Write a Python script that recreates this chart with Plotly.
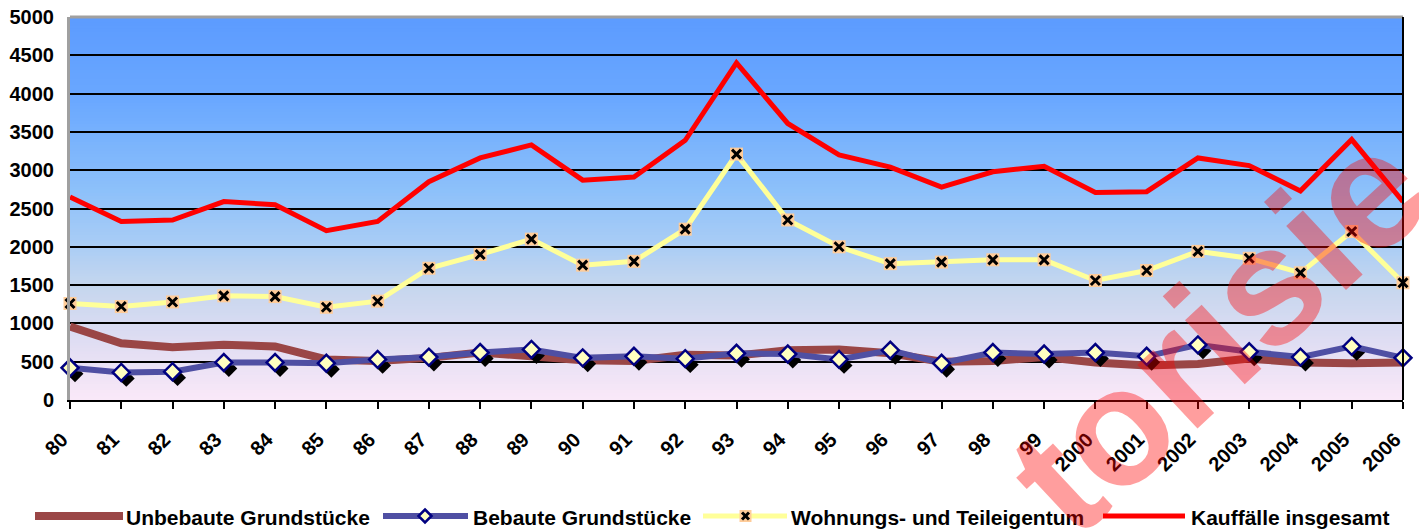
import plotly.graph_objects as go

# ---------------- data ----------------
years = ["80", "81", "82", "83", "84", "85", "86", "87", "88", "89", "90", "91", "92", "93",
         "94", "95", "96", "97", "98", "99", "2000", "2001", "2002", "2003", "2004", "2005", "2006"]

unbebaute = [960, 740, 690, 720, 700, 530, 510, 550, 620, 560, 520, 510, 590, 580,
             650, 660, 610, 500, 510, 560, 490, 450, 470, 540, 490, 480, 490]
bebaute = [420, 360, 370, 490, 490, 480, 530, 560, 620, 660, 550, 570, 540, 610,
           600, 530, 650, 480, 620, 600, 620, 570, 720, 630, 560, 700, 550]
wohnungs = [1260, 1220, 1280, 1360, 1350, 1210, 1290, 1720, 1900, 2100, 1760, 1810, 2230, 3210,
            2350, 2000, 1780, 1800, 1830, 1830, 1560, 1690, 1940, 1850, 1660, 2200, 1530]
kauffaelle = [2650, 2330, 2350, 2590, 2550, 2210, 2330, 2850, 3160, 3330, 2870, 2910, 3390, 4400,
              3610, 3200, 3040, 2780, 2980, 3050, 2710, 2720, 3160, 3060, 2730, 3400, 2590]

y_ticks = [0, 500, 1000, 1500, 2000, 2500, 3000, 3500, 4000, 4500, 5000]
series_names = ["Unbebaute Grundstücke", "Bebaute Grundstücke",
                "Wohnungs- und Teileigentum", "Kauffälle insgesamt"]
watermark = "torisie"

# ---------------- styles ----------------
W, H = 1419, 532
ML, MR, MT, MB = 70, 16, 17, 132
PW, PH = W - ML - MR, H - MT - MB
FONT = "Liberation Sans, Arial, sans-serif"
BROWN = "#9a4646"
BLUE = "#4f4fa3"
YELLOW = "#ffff99"
RED = "#ff0000"
NAVY = "#000080"
PEACH = "#ffcc99"


def px(xp):
    return (xp - ML) / PW


def py(yp):
    return (MT + PH - yp) / PH


fig = go.Figure()

# brown (bottom layer, main axes)
fig.add_trace(go.Scatter(x=years, y=unbebaute, mode="lines", name=series_names[0],
                         line=dict(color=BROWN, width=8), xaxis="x", yaxis="y",
                         showlegend=False))
# shadow of blue diamonds (shifted overlay axes)
fig.add_trace(go.Scatter(x=years, y=bebaute, mode="markers", name="shadow",
                         marker=dict(symbol="diamond", size=13, color="black"),
                         xaxis="x2", yaxis="y2", showlegend=False, hoverinfo="skip",
                         cliponaxis=False))
# top layer
fig.add_trace(go.Scatter(x=years, y=bebaute, mode="lines+markers", name=series_names[1],
                         line=dict(color=BLUE, width=6),
                         marker=dict(symbol="diamond", size=13, color="#ffffc0",
                                     line=dict(color=NAVY, width=2.5)),
                         xaxis="x3", yaxis="y3", showlegend=False, cliponaxis=False))
fig.add_trace(go.Scatter(x=years, y=wohnungs, mode="lines+markers", name=series_names[2],
                         line=dict(color=YELLOW, width=5),
                         marker=dict(symbol="square", size=13, color=PEACH),
                         xaxis="x3", yaxis="y3", showlegend=False, cliponaxis=False))
fig.add_trace(go.Scatter(x=years, y=wohnungs, mode="markers", name=series_names[2] + " x",
                         marker=dict(symbol="x-thin", size=9, color="black",
                                     line=dict(color="black", width=3)),
                         xaxis="x3", yaxis="y3", showlegend=False, hoverinfo="skip",
                         cliponaxis=False))
fig.add_trace(go.Scatter(x=years, y=kauffaelle, mode="lines", name=series_names[3],
                         line=dict(color=RED, width=5),
                         xaxis="x3", yaxis="y3", showlegend=False))

n = len(years) - 1
# pixel shift of shadow: ~5px right, ~6px down
sx = 5 / (PW / n)
sy = 6 / (PH / 5000)

shapes = []
# gradient background
stops = [(0.0, (92, 155, 255)), (0.22, (106, 168, 255)), (0.45, (140, 192, 250)),
         (0.6, (170, 205, 245)), (0.7, (196, 214, 238)), (0.83, (220, 220, 242)),
         (1.0, (250, 232, 248))]


def col(t):
    for (t0, c0), (t1, c1) in zip(stops[:-1], stops[1:]):
        if t0 <= t <= t1:
            f = (t - t0) / (t1 - t0)
            return "rgb(%d,%d,%d)" % tuple(round(a + (b - a) * f) for a, b in zip(c0, c1))
    return "rgb(%d,%d,%d)" % stops[-1][1]


N = 128
for i in range(N):
    t = (i + 0.5) / N
    shapes.append(dict(type="rect", xref="paper", yref="paper", x0=0, x1=1,
                       y0=1 - (i + 1) / N, y1=1 - i / N + 0.002,
                       fillcolor=col(t), line=dict(width=0), layer="below"))

# frame
shapes.append(dict(type="line", xref="paper", yref="paper", x0=0, x1=1, y0=1, y1=1,
                   line=dict(color="#a0a0a0", width=3), layer="above"))
shapes.append(dict(type="line", xref="paper", yref="paper", x0=1, x1=1, y0=0, y1=1,
                   line=dict(color="black", width=2), layer="above"))

# custom legend
LY = 516
shapes.append(dict(type="line", xref="paper", yref="paper", x0=px(35), x1=px(123),
                   y0=py(LY), y1=py(LY), line=dict(color=BROWN, width=8)))
shapes.append(dict(type="line", xref="paper", yref="paper", x0=px(383), x1=px(468),
                   y0=py(LY), y1=py(LY), line=dict(color=BLUE, width=6)))
d = 6.5
shapes.append(dict(type="path", xref="paper", yref="paper",
                   path="M %f,%f L %f,%f L %f,%f L %f,%f Z" % (
                       px(425), py(LY - d), px(425 + d), py(LY), px(425), py(LY + d),
                       px(425 - d), py(LY)),
                   fillcolor="#ffffc0", line=dict(color=NAVY, width=2.5)))
shapes.append(dict(type="line", xref="paper", yref="paper", x0=px(703), x1=px(787),
                   y0=py(LY), y1=py(LY), line=dict(color=YELLOW, width=5)))
shapes.append(dict(type="rect", xref="paper", yref="paper", x0=px(739.5), x1=px(751.5),
                   y0=py(LY + 6), y1=py(LY - 6), fillcolor=PEACH, line=dict(width=0)))
shapes.append(dict(type="line", xref="paper", yref="paper", x0=px(742), x1=px(749),
                   y0=py(LY - 3.5), y1=py(LY + 3.5), line=dict(color="black", width=3)))
shapes.append(dict(type="line", xref="paper", yref="paper", x0=px(742), x1=px(749),
                   y0=py(LY + 3.5), y1=py(LY - 3.5), line=dict(color="black", width=3)))
shapes.append(dict(type="line", xref="paper", yref="paper", x0=px(1103), x1=px(1185),
                   y0=py(LY), y1=py(LY), line=dict(color=RED, width=5)))

annotations = []
for name, xl in zip(series_names, [124, 471, 789, 1189]):
    annotations.append(dict(text=name, xref="paper", yref="paper", x=px(xl), y=py(517),
                            xanchor="left", yanchor="middle", showarrow=False,
                            font=dict(family=FONT, size=21, color="black", weight="bold")))
annotations.append(dict(text=watermark, xref="paper", yref="paper", x=px(1217), y=py(331),
                        xanchor="center", yanchor="middle", showarrow=False, textangle=-43,
                        font=dict(family=FONT, size=166, color="rgba(255,0,0,0.38)",
                                  weight="bold")))

tickfont = dict(family=FONT, size=20, color="black", weight="bold")

fig.update_layout(
    width=W, height=H,
    margin=dict(l=ML, r=MR, t=MT, b=MB, pad=0, autoexpand=False),
    paper_bgcolor="white", plot_bgcolor="white",
    showlegend=False,
    shapes=shapes, annotations=annotations,
    xaxis=dict(type="category", range=[0, n], tickmode="array", tickvals=years,
               ticktext=years, tickangle=-45, tickfont=tickfont, ticks="outside",
               ticklen=7, tickwidth=2, tickcolor="black", showline=True,
               linecolor="black", linewidth=2, showgrid=False, zeroline=False,
               ticklabelstandoff=11, ticklabelshift=-8, automargin=False),
    yaxis=dict(range=[0, 5000], tickmode="array", tickvals=y_ticks, tickfont=tickfont,
               showgrid=True, gridcolor="black", gridwidth=2, showline=True,
               linecolor="#a0a0a0", linewidth=3, ticks="", zeroline=False,
               ticklabelstandoff=9, automargin=False),
    xaxis2=dict(type="category", overlaying="x", range=[-sx, n - sx], visible=False,
                categoryorder="array", categoryarray=years),
    yaxis2=dict(overlaying="y", range=[sy, 5000 + sy], visible=False),
    xaxis3=dict(type="category", overlaying="x", range=[0, n], visible=False,
                categoryorder="array", categoryarray=years),
    yaxis3=dict(overlaying="y", range=[0, 5000], visible=False),
)

fig.write_html("out.html", config={"displayModeBar": False},
               post_script="document.body.style.margin='0';"
                           "document.body.style.overflow='hidden';")
